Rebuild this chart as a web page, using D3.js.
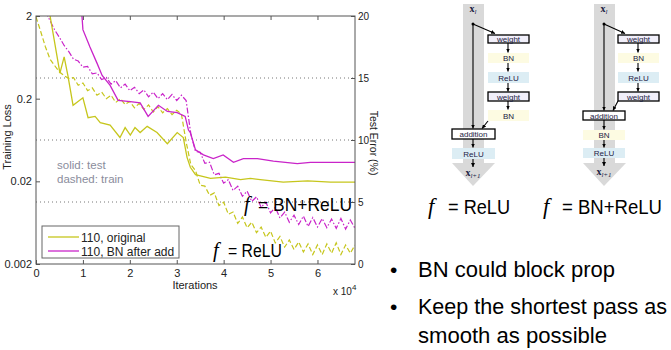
<!DOCTYPE html>
<html><head><meta charset="utf-8">
<script src="https://cdn.jsdelivr.net/npm/d3@7"></script>
<style>body{margin:0;background:#fff}</style>
</head><body>
<svg id="c" width="671" height="350" xmlns="http://www.w3.org/2000/svg"></svg>
<script>
// ---------------- DATA ----------------
const trainIters=[0,0.1,0.2,0.3,0.4,0.5,0.6,0.7,0.8,0.9,1,1.1,1.2,1.3,1.4,1.5,1.6,1.7,1.8,1.9,2,2.1,2.2,2.3,2.4,2.5,2.6,2.7,2.8,2.9,3,3.1,3.2,3.3,3.4,3.5,3.6,3.7,3.8,3.9,4,4.1,4.2,4.3,4.4,4.5,4.6,4.7,4.8,4.9,5,5.1,5.2,5.3,5.4,5.5,5.6,5.7,5.8,5.9,6,6.1,6.2,6.3,6.4,6.5,6.6,6.7,6.8];
const trainLossOriginal=[1.95,1.30,0.85,0.60,0.50,0.42,0.38,0.35,0.36,0.29,0.31,0.25,0.27,0.22,0.24,0.20,0.22,0.18,0.20,0.17,0.185,0.155,0.175,0.148,0.168,0.138,0.16,0.135,0.152,0.128,0.145,0.13,0.06,0.032,0.027,0.018,0.0175,0.0135,0.0145,0.0102,0.0112,0.0080,0.0085,0.0062,0.0074,0.0055,0.0064,0.0048,0.0056,0.0042,0.0050,0.0036,0.0043,0.0032,0.0039,0.0030,0.0037,0.0028,0.0035,0.0026,0.0034,0.0026,0.0035,0.0027,0.0036,0.0026,0.0034,0.0027,0.0034];
const trainItersBN=[0.2,0.3,0.4,0.5,0.6,0.7,0.8,0.9,1,1.1,1.2,1.3,1.4,1.5,1.6,1.7,1.8,1.9,2,2.1,2.2,2.3,2.4,2.5,2.6,2.7,2.8,2.9,3,3.1,3.2,3.3,3.4,3.5,3.6,3.7,3.8,3.9,4,4.1,4.2,4.3,4.4,4.5,4.6,4.7,4.8,4.9,5,5.1,5.2,5.3,5.4,5.5,5.6,5.7,5.8,5.9,6,6.1,6.2,6.3,6.4,6.5,6.6,6.7,6.8];
const trainLossBN=[2.3,1.75,1.35,1.1,0.88,0.74,0.60,0.57,0.48,0.49,0.40,0.41,0.34,0.36,0.30,0.33,0.27,0.30,0.25,0.275,0.23,0.255,0.21,0.24,0.20,0.23,0.195,0.225,0.19,0.22,0.19,0.075,0.046,0.045,0.033,0.034,0.024,0.025,0.019,0.021,0.0155,0.0175,0.0132,0.0152,0.0114,0.0130,0.0097,0.0112,0.0083,0.0097,0.0072,0.0085,0.0064,0.0078,0.0060,0.0076,0.0057,0.0073,0.0056,0.0071,0.0055,0.0070,0.0054,0.0071,0.0053,0.0068,0.0054];
const testItersOriginal=[0,0.30,0.51,0.60,0.68,0.79,1.00,1.11,1.26,1.37,1.58,1.79,1.90,2.01,2.11,2.22,2.37,2.58,2.80,3.01,3.14,3.22,3.29,3.40,3.72,4.04,4.36,4.57,4.78,5.27,5.79,6.28,6.81];
const testErrOriginal=[24,20.0,15.4,16.7,15.2,12.8,13.4,11.8,11.9,11.4,11.2,10.2,11.0,10.4,11.0,10.6,11.1,10.6,9.7,10.6,10.2,8.6,7.8,7.2,6.9,7.0,6.8,6.9,6.8,6.6,6.7,6.6,6.6];
const testItersBN=[0.90,0.98,1.00,1.15,1.30,1.41,1.58,1.75,2.01,2.22,2.39,2.61,2.80,3.01,3.18,3.25,3.29,3.40,3.57,3.78,3.99,4.21,4.42,4.72,5.06,5.57,5.85,6.28,6.81];
const testErrBN=[30,20,18.9,17.5,16.2,15.2,14.4,13.2,13.1,13.0,11.9,12.8,12.3,12.2,11.9,10.8,10.6,9.2,8.8,8.5,8.8,8.2,8.5,8.5,8.3,8.1,8.2,8.2,8.2];
const xTicks=[0,1,2,3,4,5,6];
const xTopTicks=[1,2,3,4,5,6];
const lossTicks=[2,0.2,0.02,0.002];
const lossTickLabels=["2","0.2","0.02","0.002"];
const errTicks=[0,5,10,15,20];
const errGrid=[5,10,15];
const seriesNames=["110, original","110, BN after add"];
const seriesColors=["#c6c61c","#c924c9"];

// ---------------- CHART ----------------
const svg=d3.select("#c");
svg.append("rect").attr("width",671).attr("height",350).attr("fill","#fff");
const L=36,R=355,T=16,B=264;
const x=d3.scaleLinear().domain([0,6.8]).range([L,R]);
const yL=d3.scaleLog().domain([0.002,2]).range([B,T]);
const yR=d3.scaleLinear().domain([0,20]).range([B,T]);
const FONT="'Liberation Sans', Arial, sans-serif";

const defs=svg.append("defs");
defs.append("clipPath").attr("id","plotclip").append("rect").attr("x",L).attr("y",T).attr("width",R-L).attr("height",B-T);
defs.append("marker").attr("id","ar").attr("viewBox","0 0 6 6").attr("refX",6).attr("refY",3)
  .attr("markerWidth",4).attr("markerHeight",4).attr("markerUnits","userSpaceOnUse").attr("orient","auto")
  .append("path").attr("d","M0,0L6,3L0,6Z").attr("fill","#000");

// grid
svg.append("g").selectAll("line").data(errGrid).join("line")
  .attr("x1",L).attr("x2",R).attr("y1",d=>yR(d)).attr("y2",d=>yR(d))
  .attr("stroke","#666").attr("stroke-width",0.9).attr("stroke-dasharray","1,3");

function styleAxis(size){
  return g=>{
    g.select(".domain").remove();
    g.selectAll("line").attr("stroke","#555");
    g.selectAll("text").attr("font-family",FONT).attr("font-size",size).attr("fill","#222");
  };
}
svg.append("g").attr("transform",`translate(0,${B})`)
  .call(d3.axisBottom(x).tickValues(xTicks).tickSizeInner(-4).tickSizeOuter(0).tickPadding(5).tickFormat(d3.format("d"))).call(styleAxis(11));
svg.append("g").attr("transform",`translate(0,${T})`)
  .call(d3.axisTop(x).tickValues(xTopTicks).tickSizeInner(-4).tickSizeOuter(0).tickFormat("")).call(styleAxis(11));
svg.append("g").attr("transform",`translate(${L},0)`)
  .call(d3.axisLeft(yL).tickValues(lossTicks).tickFormat((d,i)=>lossTickLabels[i]).tickSizeInner(-4).tickSizeOuter(0).tickPadding(4)).call(styleAxis(11));
svg.append("g").attr("transform",`translate(${R},0)`)
  .call(d3.axisRight(yR).tickValues(errTicks).tickSizeInner(-4).tickSizeOuter(0).tickPadding(3)).call(styleAxis(10));

const plot=svg.append("g").attr("clip-path","url(#plotclip)");
const lineL=d3.line().x(d=>x(d[0])).y(d=>yL(d[1]));
const lineR=d3.line().x(d=>x(d[0])).y(d=>yR(d[1]));
const z=(a,b)=>a.map((v,i)=>[v,b[i]]);
plot.append("path").datum(z(trainIters,trainLossOriginal)).attr("d",lineL).attr("fill","none")
  .attr("stroke",seriesColors[0]).attr("stroke-width",1.2).attr("stroke-dasharray","5,2.5");
plot.append("path").datum(z(trainItersBN,trainLossBN)).attr("d",lineL).attr("fill","none")
  .attr("stroke",seriesColors[1]).attr("stroke-width",1.2).attr("stroke-dasharray","6,2,1.5,2");
plot.append("path").datum(z(testItersOriginal,testErrOriginal)).attr("d",lineR).attr("fill","none")
  .attr("stroke",seriesColors[0]).attr("stroke-width",1.3);
plot.append("path").datum(z(testItersBN,testErrBN)).attr("d",lineR).attr("fill","none")
  .attr("stroke",seriesColors[1]).attr("stroke-width",1.3);

// frame
svg.append("rect").attr("x",L).attr("y",T).attr("width",R-L).attr("height",B-T)
  .attr("fill","none").attr("stroke","#555").attr("stroke-width",1);

// axis labels
svg.append("text").attr("transform","translate(11,137) rotate(-90)").attr("text-anchor","middle")
  .attr("font-family",FONT).attr("font-size",11).attr("fill","#222").text("Training Loss");
svg.append("text").attr("transform","translate(370,143) rotate(90)").attr("text-anchor","middle")
  .attr("font-family",FONT).attr("font-size",10.5).attr("fill","#222").text("Test Error (%)");
svg.append("text").attr("x",195).attr("y",289).attr("text-anchor","middle")
  .attr("font-family",FONT).attr("font-size",11).attr("fill","#222").text("Iterations");
const xe=svg.append("text").attr("x",333).attr("y",295).attr("font-family",FONT).attr("font-size",10).attr("fill","#222");
xe.append("tspan").text("x 10");
xe.append("tspan").attr("dy",-5).attr("font-size",8).text("4");

// solid/dashed note
svg.append("text").attr("x",57).attr("y",169).attr("font-family",FONT).attr("font-size",11.5).attr("fill","#8a8c9c").text("solid: test");
svg.append("text").attr("x",57).attr("y",183).attr("font-family",FONT).attr("font-size",11.5).attr("fill","#8a8c9c").text("dashed: train");

// legend
svg.append("rect").attr("x",42).attr("y",226).attr("width",137).attr("height",32).attr("fill","#fff").attr("stroke","#666");
seriesNames.forEach((n,i)=>{
  const yy=237+i*14;
  svg.append("line").attr("x1",48).attr("x2",79).attr("y1",yy).attr("y2",yy).attr("stroke",seriesColors[i]).attr("stroke-width",1.3);
  svg.append("text").attr("x",81).attr("y",yy+4.5).attr("font-family",FONT).attr("font-size",12).attr("fill","#222").text(n);
});

// formula annotations
function formula(xf,xe,y,rest,len,size){
  svg.append("text").attr("x",xf).attr("y",y).attr("font-family","'Liberation Serif', serif").attr("font-style","italic")
    .attr("font-size",size+3).attr("fill","#000").text("f");
  svg.append("text").attr("x",xe).attr("y",y).attr("font-family",FONT).attr("font-size",size).attr("fill","#000")
    .attr("textLength",len).attr("lengthAdjust","spacingAndGlyphs").text(rest);
}
formula(244,258,211,"= BN+ReLU",94,17.5);
formula(213,228,257,"= ReLU",54,17.5);
formula(428,448,214,"= ReLU",62,19.5);
formula(543,562,214,"= BN+ReLU",100,19.5);

// bullets
const bullets=[{t:"BN could block prop",y:277,w:197},{t:"Keep the shortest pass as",y:314,w:249},{t:"smooth as possible",y:343,w:189,nob:true}];
bullets.forEach(b=>{
  if(!b.nob) svg.append("text").attr("x",390).attr("y",b.y).attr("font-family",FONT).attr("font-size",21).attr("fill","#000").text("•");
  svg.append("text").attr("x",418).attr("y",b.y).attr("font-family",FONT).attr("font-size",21.5).attr("fill","#000")
    .attr("textLength",b.w).attr("lengthAdjust","spacingAndGlyphs").text(b.t);
});

// ---------------- DIAGRAMS ----------------
const DF="'Liberation Sans', Arial, sans-serif";
function box(x0,y0,w,h,fill,stroke,label){
  svg.append("rect").attr("x",x0).attr("y",y0).attr("width",w).attr("height",h).attr("fill",fill)
    .attr("stroke",stroke||"none").attr("stroke-width",stroke?1.3:0);
  svg.append("text").attr("x",x0+w/2).attr("y",y0+h/2+3).attr("text-anchor","middle").attr("font-family",DF)
    .attr("font-size",8).attr("fill","#1c2244").text(label);
}
function arrow(x1,y1,x2,y2){
  svg.append("line").attr("x1",x1).attr("y1",y1).attr("x2",x2).attr("y2",y2).attr("stroke","#000").attr("stroke-width",1.1).attr("marker-end","url(#ar)");
}
function xlabel(cx,y,sub){
  const t=svg.append("text").attr("x",cx).attr("y",y).attr("text-anchor","middle").attr("font-family","'Liberation Serif', serif").attr("fill","#1c2244");
  t.append("tspan").attr("font-weight","bold").attr("font-size",10).text("x");
  t.append("tspan").attr("font-style","italic").attr("font-size",7).attr("dy",2).text(sub);
}
function diagram(cx,bx,bn){
  svg.append("rect").attr("x",cx-10).attr("y",4).attr("width",21).attr("height",160).attr("fill","#d9d9d9");
  svg.append("polygon").attr("points",`${cx-21},163 ${cx+22},163 ${cx},186`).attr("fill","#d9d9d9");
  xlabel(cx,12,"l");
  svg.append("circle").attr("cx",cx).attr("cy",24).attr("r",1.5).attr("fill","#000");
  const sx=bx-20;
  arrow(cx,24,sx+7,33.5);
  box(sx,35,41,8,"#f1effa","#000","weight");
  arrow(bx,43,bx,52.5);
  box(sx,53,41,10,"#fdfbe2",null,"BN");
  arrow(bx,63,bx,71.5);
  box(sx,72,41,11,"#dcedf4",null,"ReLU");
  arrow(bx,83,bx,91.5);
  box(sx,92,41,9,"#f1effa","#000","weight");
  if(!bn){
    arrow(bx,101,bx,109.5);
    box(sx,110,41,11,"#fdfbe2",null,"BN");
    arrow(sx,121,cx+9,128.5);
    arrow(cx,24,cx,128.5);
    box(cx-21,129,43,10,"#fff","#000","addition");
    arrow(cx,139,cx,147.5);
    box(cx-21,148,43,11,"#dcedf4",null,"ReLU");
    arrow(cx,159,cx,167);
    xlabel(cx,176,"l+1");
  } else {
    arrow(sx,101,cx+9,110.5);
    arrow(cx,24,cx,110.5);
    box(cx-21,111,42,9,"#fff","#000","addition");
    arrow(cx,120,cx,129.5);
    box(cx-21,130,42,10,"#fdfbe2",null,"BN");
    arrow(cx,140,cx,147.5);
    box(cx-21,148,42,10,"#dcedf4",null,"ReLU");
    arrow(cx,158,cx,166);
    xlabel(cx,175,"l+1");
  }
}
diagram(473,508,false);
diagram(604,638,true);
</script>
</body></html>
